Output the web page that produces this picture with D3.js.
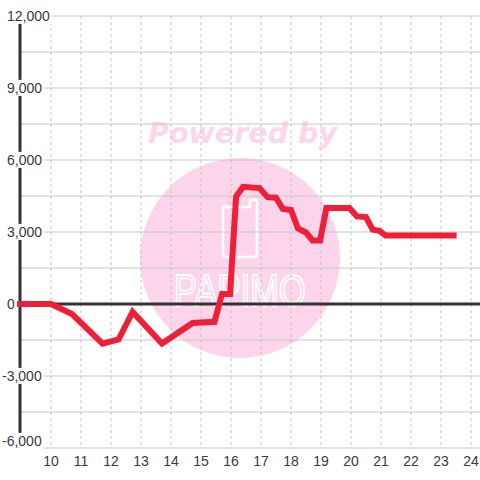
<!DOCTYPE html>
<html>
<head>
<meta charset="utf-8">
<script src="https://d3js.org/d3.v7.min.js"></script>
<style>
  body { margin: 0; background: #fff; }
  text { font-family: "Liberation Sans", Arial, sans-serif; }
</style>
</head>
<body>
<div id="plot"></div>
<script>
var svgWidth = 480;
var svgHeight = 480;

// hour of day and value
var times = [8.87, 10.0, 10.7, 11.72, 12.25, 12.72, 13.7, 14.72, 15.45, 15.7, 15.97, 16.17, 16.4, 16.95, 17.22, 17.5, 17.73, 18.0, 18.23, 18.5, 18.72, 18.97, 19.18, 19.95, 20.2, 20.5, 20.72, 20.95, 21.15, 23.52];
var values = [0, 0, -420, -1650, -1480, -330, -1650, -790, -740, 420, 420, 4480, 4880, 4830, 4450, 4430, 3960, 3920, 3150, 2980, 2650, 2650, 4000, 4000, 3650, 3620, 3100, 3050, 2850, 2850];

var yTicks = [-6000, -3000, 0, 3000, 6000, 9000, 12000];
var yGrid = [-6000, -4500, -3000, -1500, 0, 1500, 3000, 4500, 6000, 7500, 9000, 10500, 12000];
var xTicks = [10, 11, 12, 13, 14, 15, 16, 17, 18, 19, 20, 21, 22, 23, 24];

var svg = d3.select("#plot")
  .append("svg")
  .attr("width", svgWidth)
  .attr("height", svgHeight);

var x = d3.scaleLinear()
  .domain([8.967, 24.3])
  .range([20, 480]);

var y = d3.scaleLinear()
  .domain([-6000, 12000])
  .range([448, 16]);

// watermark
var wm = svg.append("g");
wm.append("circle")
  .attr("cx", 240)
  .attr("cy", 258)
  .attr("r", 100)
  .attr("fill", "#fdd5ea");
wm.append("text")
  .attr("x", 148)
  .attr("y", 143)
  .style("font-family", "'DejaVu Sans', sans-serif")
  .style("font-weight", "bold")
  .style("font-style", "italic")
  .style("font-size", "28px")
  .attr("textLength", 189)
  .attr("lengthAdjust", "spacingAndGlyphs")
  .attr("fill", "#fcd6e9")
  .text("Powered by");
wm.append("path")
  .attr("d", "M223,207 L250,207 L250,202 Q250,200 252,200 L255,200 Q257,200 257,202 L257,254 Q257,257 254,257 L226,257 Q223,257 223,254 Z")
  .attr("fill", "none")
  .attr("stroke", "#fff")
  .attr("stroke-width", 2.5);
wm.append("text")
  .attr("x", 174)
  .attr("y", 306)
  .style("font-size", "44px")
  .attr("textLength", 132)
  .attr("lengthAdjust", "spacingAndGlyphs")
  .attr("fill", "none")
  .attr("stroke", "#fff")
  .attr("stroke-width", 1.8)
  .text("PAPIMO");

// grid
svg.append("g")
  .selectAll("line")
  .data(yGrid)
  .enter()
  .append("line")
  .attr("x1", 20)
  .attr("x2", 480)
  .attr("y1", d => y(d))
  .attr("y2", d => y(d))
  .attr("stroke", "#c8c8c8")
  .attr("stroke-width", 1.2);

svg.append("g")
  .selectAll("line")
  .data(xTicks)
  .enter()
  .append("line")
  .attr("x1", d => x(d))
  .attr("x2", d => x(d))
  .attr("y1", y(12000))
  .attr("y2", y(-6000))
  .attr("stroke", "#c4c4c4")
  .attr("stroke-dasharray", "3,3");

// axes
svg.append("line")
  .attr("x1", x(8.967))
  .attr("x2", x(8.967))
  .attr("y1", y(12000))
  .attr("y2", y(-6000))
  .attr("stroke", "#333")
  .attr("stroke-width", 3);

svg.append("line")
  .attr("x1", 20)
  .attr("x2", 480)
  .attr("y1", y(0))
  .attr("y2", y(0))
  .attr("stroke", "#333")
  .attr("stroke-width", 3);

// y labels with white boxes
var fmt = d3.format(",");
var yLabels = svg.append("g")
  .selectAll("g")
  .data(yTicks)
  .enter()
  .append("g");

yLabels.append("rect")
  .attr("fill", "#fff");

yLabels.append("text")
  .attr("x", d => d < 0 ? 2 : 7)
  .attr("y", d => Math.min(y(d), 441))
  .attr("dy", "0.35em")
  .attr("font-size", 14)
  .attr("fill", "#3a3a3a")
  .text(d => fmt(d).replace("\u2212", "-"));

yLabels.each(function () {
  var g = d3.select(this);
  var b = g.select("text").node().getBBox();
  g.select("rect")
    .attr("x", 0)
    .attr("y", b.y)
    .attr("width", b.x + b.width + 2)
    .attr("height", b.height);
});

// x labels
svg.append("g")
  .selectAll("text")
  .data(xTicks)
  .enter()
  .append("text")
  .attr("x", d => x(d))
  .attr("y", 466)
  .attr("text-anchor", "middle")
  .attr("font-size", 14)
  .attr("fill", "#3a3a3a")
  .text(d => d);

// series
var pts = times.map((t, i) => [t, values[i]]);
var line = d3.line()
  .x(d => x(d[0]))
  .y(d => y(d[1]));

svg.append("path")
  .datum(pts)
  .attr("d", line)
  .attr("fill", "none")
  .attr("stroke", "#ee1f36")
  .attr("stroke-width", 6);
</script>
</body>
</html>
